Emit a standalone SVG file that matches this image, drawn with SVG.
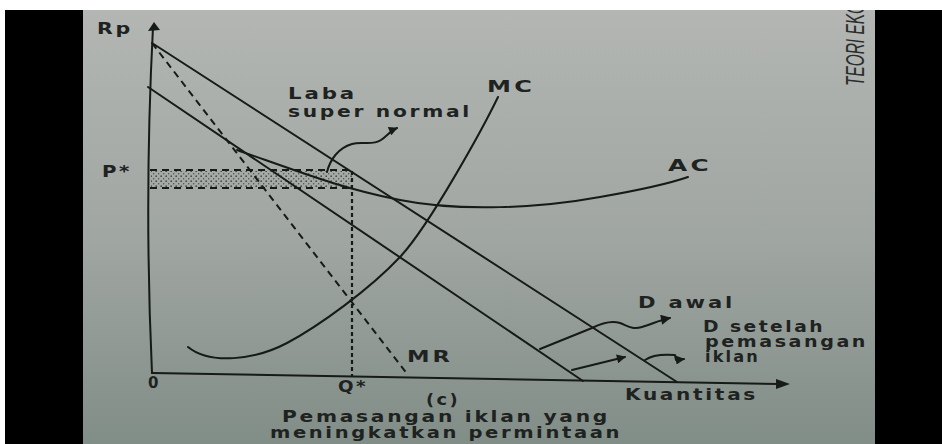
<svg xmlns="http://www.w3.org/2000/svg" width="942" height="444" viewBox="0 0 942 444">
<defs>
<linearGradient id="page" x1="0" y1="0" x2="0" y2="1">
<stop offset="0" stop-color="#b3b6b3"/>
<stop offset="0.55" stop-color="#9fa5a1"/>
<stop offset="1" stop-color="#818d87"/>
</linearGradient>
<pattern id="dots" width="5" height="5" patternUnits="userSpaceOnUse">
<circle cx="1.2" cy="1.2" r="0.9" fill="#2a2e2c"/>
<circle cx="3.7" cy="3.7" r="0.7" fill="#2a2e2c"/>
</pattern>
<marker id="ah" viewBox="0 0 10 10" refX="9" refY="5" markerWidth="11" markerHeight="9" markerUnits="userSpaceOnUse" orient="auto">
<path d="M0,0 L10,5 L0,10 Z" fill="#161a18"/>
</marker>
<marker id="ahBig" viewBox="0 0 10 10" refX="9" refY="5" markerWidth="14" markerHeight="10" markerUnits="userSpaceOnUse" orient="auto">
<path d="M0,0 L10,5 L0,10 Z" fill="#161a18"/>
</marker>
<style>
.ln{fill:none;stroke:#161a18;stroke-width:2;stroke-linecap:round;stroke-linejoin:round}
.dash{fill:none;stroke:#161a18;stroke-width:2;stroke-dasharray:7 5}
.dot{fill:none;stroke:#161a18;stroke-width:2.2;stroke-dasharray:4 3}
.t{font-family:"DejaVu Sans","Liberation Sans",Arial,sans-serif;fill:#1e2220;font-size:15px;font-weight:bold;letter-spacing:2px}
</style>
</defs>

<g id="frame">
<rect x="0" y="0" width="942" height="444" fill="#000"/>
<rect x="83" y="10" width="792" height="434" fill="url(#page)"/>
<text transform="translate(864,86) rotate(-90)" font-family="Liberation Sans, Arial, sans-serif" font-size="26" font-style="italic" fill="#2a2e2c" textLength="84" lengthAdjust="spacingAndGlyphs">TEORI EKO</text>
<rect x="0" y="0" width="942" height="10" fill="#fff"/>
<rect x="0" y="0" width="5" height="444" fill="#fff"/>
</g>

<g id="profit-area">
<rect x="151" y="171" width="201" height="17" fill="url(#dots)" opacity="0.75"/>
<line class="dash" x1="150" y1="170" x2="353" y2="170"/>
<line class="dash" x1="150" y1="188" x2="352" y2="188"/>
<line class="dot" x1="352" y1="171" x2="352" y2="377"/>
</g>

<g id="axes">
<path class="ln" d="M153,27 Q144,200 152,373"/>
<path d="M148,31 L154,22 L160,30 Z" fill="#161a18"/>
<path class="ln" d="M152,373 L779,384"/>
<path d="M776,379 L790,384 L776,389 Z" fill="#161a18"/>
</g>

<g id="d-setelah">
<line class="ln" x1="152" y1="43" x2="677" y2="382"/>
</g>
<g id="d-awal">
<line class="ln" x1="148" y1="87" x2="583" y2="381"/>
</g>
<g id="mr">
<line class="dash" x1="152" y1="43" x2="408" y2="375"/>
</g>
<g id="mc">
<path class="ln" d="M188,347 C210,365 255,360 287,343 C319,326 370,289 400,257 C430,225 484,126 498,97"/>
</g>
<g id="ac">
<path class="ln" d="M237,150 C300,172 340,188 400,200 C460,212 540,208 600,197 C640,190 668,184 688,177"/>
</g>

<g id="connectors">
<path class="ln" d="M327,172 C330,160 338,148 352,144 C362,141 372,146 381,140 C387,136 390,131 397,128" marker-end="url(#ah)"/>
<path class="ln" d="M540,349 L592,328 C600,324 610,320 620,323 C628,326 632,330 642,327 C652,324 660,320 670,318" marker-end="url(#ahBig)"/>
<path class="ln" d="M572,370 L625,357" marker-end="url(#ah)"/>
<path class="ln" d="M645,360 C652,355 662,354 675,355 L676,360 L684,359" marker-end="url(#ah)"/>
</g>

<g id="labels">
<text class="t" x="97" y="34" font-size="14" font-weight="normal" letter-spacing="1" textLength="36" lengthAdjust="spacingAndGlyphs">Rp</text>
<text class="t" x="102" y="177" font-size="14" textLength="30" lengthAdjust="spacingAndGlyphs">P*</text>
<text class="t" x="148" y="388" font-size="14" font-weight="normal">0</text>
<text class="t" x="338" y="392" font-size="14" textLength="30" lengthAdjust="spacingAndGlyphs">Q*</text>
<text class="t" x="407" y="362" textLength="46" lengthAdjust="spacingAndGlyphs">MR</text>
<text class="t" x="487" y="92" textLength="48" lengthAdjust="spacingAndGlyphs">MC</text>
<text class="t" x="288" y="99" textLength="69" lengthAdjust="spacingAndGlyphs">Laba</text>
<text class="t" x="288" y="117" textLength="184" lengthAdjust="spacingAndGlyphs">super normal</text>
<text class="t" x="668" y="171" textLength="44" lengthAdjust="spacingAndGlyphs">AC</text>
<text class="t" x="638" y="308" font-size="16" textLength="97" lengthAdjust="spacingAndGlyphs">D awal</text>
<text class="t" x="703" y="332" font-size="12" textLength="122" lengthAdjust="spacingAndGlyphs">D setelah</text>
<text class="t" x="705" y="347" font-size="12" textLength="163" lengthAdjust="spacingAndGlyphs">pemasangan</text>
<text class="t" x="705" y="362" font-size="12" textLength="55" lengthAdjust="spacingAndGlyphs">iklan</text>
<text class="t" x="625" y="400" textLength="133" lengthAdjust="spacingAndGlyphs">Kuantitas</text>
<text class="t" x="426" y="405" font-size="13" textLength="34" lengthAdjust="spacingAndGlyphs">(c)</text>
<text class="t" x="282" y="422" font-size="13" textLength="328" lengthAdjust="spacingAndGlyphs">Pemasangan iklan yang</text>
<text class="t" x="270" y="438" font-size="13" textLength="352" lengthAdjust="spacingAndGlyphs">meningkatkan permintaan</text>
</g>
</svg>
